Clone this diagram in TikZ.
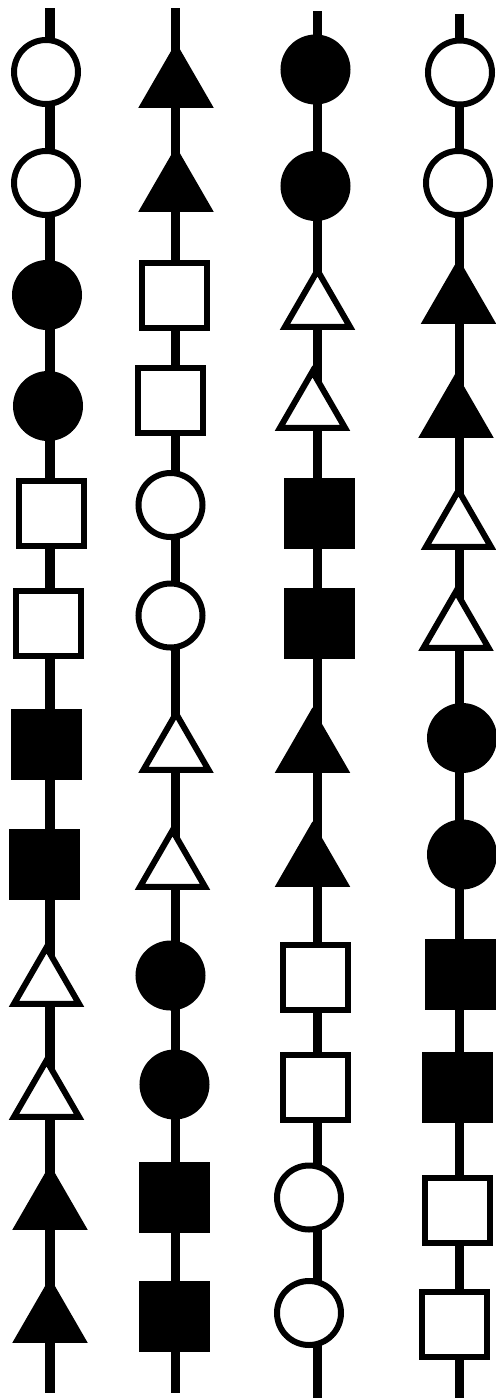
\documentclass[tikz,border=0pt]{standalone}
\usetikzlibrary{shapes.geometric}

\begin{document}
\begin{tikzpicture}[x=0.5pt,y=-0.5pt,
      stem/.style={line width=4.75pt},
      ocirc/.style={draw,line width=3pt,fill=white,circle,minimum size=32pt,inner sep=0pt},
      fcirc/.style={ocirc,fill=black},
      osq/.style={draw,line width=3pt,fill=white,rectangle,minimum size=32.5pt,inner sep=0pt},
      fsq/.style={osq,fill=black},
      otri/.style={draw,line width=3pt,fill=white,regular polygon,regular polygon sides=3,
        minimum size=37.5pt,inner sep=0pt},
      ftri/.style={otri,fill=black}]
    \useasboundingbox (0,0) rectangle (495,1399);
    % --- column 1 ---
    \coordinate (t1) at (50,8); \coordinate (b1) at (50,1393);
    \draw[stem] (t1) -- (b1);
    \foreach \s/\x/\y [count=\k] in {ocirc/46/72, ocirc/46/183, fcirc/47/295, fcirc/48/406,
        osq/51.5/513, osq/48/623.5, fsq/46.5/744.5, fsq/44.5/864.5,
        otri/46.5/985, otri/46.5/1098, ftri/50/1208, ftri/50/1321}
      \node[\s] (p1-\k) at (\x,\y) {};
    % --- column 2 ---
    \coordinate (t2) at (175.5,8); \coordinate (b2) at (175.5,1393);
    \draw[stem] (t2) -- (b2);
    \foreach \s/\x/\y [count=\k] in {ftri/176/86, ftri/176/190, osq/174.5/295.5, osq/170.5/400,
        ocirc/170.5/505, ocirc/170.5/615.5, otri/176/751, otri/172.5/868,
        fcirc/170.5/975.5, fcirc/174.5/1084.5, fsq/174.5/1197.5, fsq/174.5/1316.5}
      \node[\s] (p2-\k) at (\x,\y) {};
    % --- column 3 ---
    \coordinate (t3) at (317.5,11); \coordinate (b3) at (317.5,1398);
    \draw[stem] (t3) -- (b3);
    \foreach \s/\x/\y [count=\k] in {fcirc/315.5/69.5, fcirc/315.5/186, otri/317.5/308, otri/312.5/409,
        fsq/319/513.5, fsq/319/623.5, ftri/312.5/751, ftri/312.5/865,
        osq/315.5/977.5, osq/315.5/1087.5, ocirc/309/1197.5, ocirc/309/1313}
      \node[\s] (p3-\k) at (\x,\y) {};
    % --- column 4 ---
    \coordinate (t4) at (459.5,14); \coordinate (b4) at (459.5,1398);
    \draw[stem] (t4) -- (b4);
    \foreach \s/\x/\y [count=\k] in {ocirc/460/72.5, ocirc/458/183, ftri/458.5/302, ftri/456/416,
        otri/458.5/528, otri/456/629, fcirc/462/738, fcirc/462/854.5,
        fsq/460.5/974.5, fsq/457.5/1087.5, osq/457.5/1210.5, osq/454/1324.5}
      \node[\s] (p4-\k) at (\x,\y) {};
  \end{tikzpicture}
\end{document}
